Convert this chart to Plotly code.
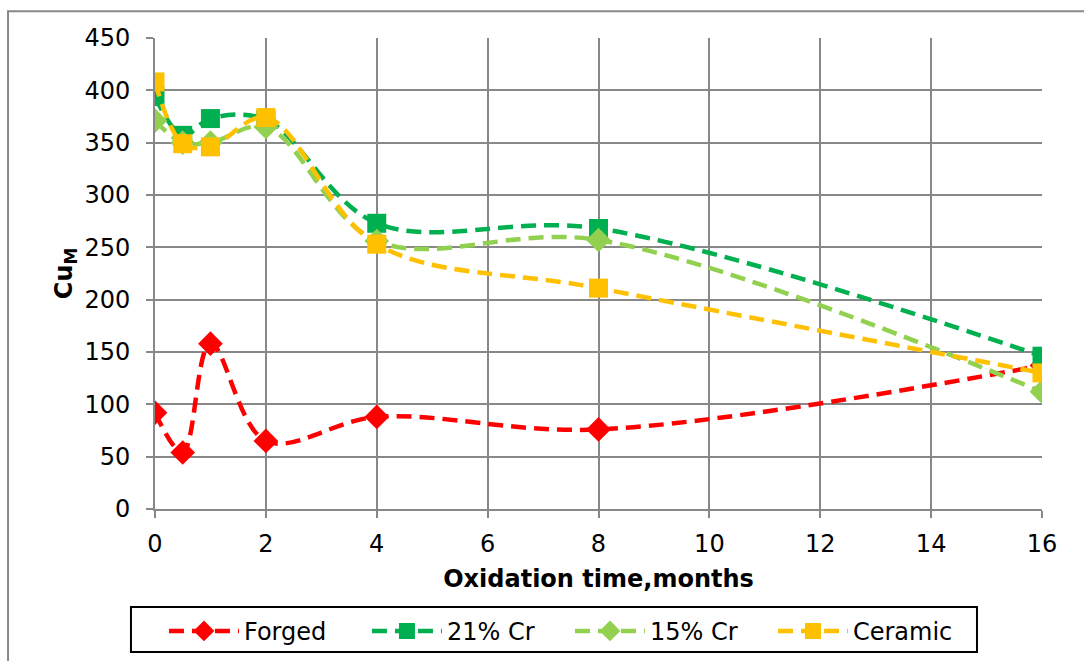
import plotly.graph_objects as go

# Oxidation time (months)
months = [0, 0.5, 1, 2, 4, 8, 16]

# Cu_M values per material
forged = [92, 54, 158, 65, 88, 76, 137]
cr21 = [394, 357, 373, 372, 273, 268, 146]
cr15 = [371, 350, 350, 365, 256, 257, 112]
ceramic = [408, 349, 346, 374, 253, 211, 130]

series = [
    ("Forged", forged, "#FF0000", "diamond"),
    ("21% Cr", cr21, "#00B050", "square"),
    ("15% Cr", cr15, "#92D050", "diamond"),
    ("Ceramic", ceramic, "#FFC000", "square"),
]

x_ticks = [0, 2, 4, 6, 8, 10, 12, 14, 16]
y_ticks = [0, 50, 100, 150, 200, 250, 300, 350, 400, 450]

FONT = "DejaVu Sans"
GRID = "#888888"
FS = 24

fig = go.Figure()
for name, vals, color, symbol in series:
    fig.add_trace(go.Scatter(
        x=months, y=vals, name=name, mode="lines+markers",
        line=dict(color=color, width=4.5, dash="15px,8px", shape="spline", smoothing=1.0),
        marker=dict(color=color, symbol=symbol, size=19, line=dict(width=0)),
    ))

fig.update_layout(
    width=1084, height=661,
    margin=dict(l=155, r=42, t=38, b=152, autoexpand=False),
    paper_bgcolor="white", plot_bgcolor="white",
    font=dict(family=FONT, size=FS, color="black"),
    showlegend=True,
    legend=dict(
        orientation="h", x=0.0101, xanchor="left", y=-0.212, yanchor="top",
        borderwidth=0, bgcolor="rgba(0,0,0,0)",
        font=dict(family=FONT, size=FS, color="black"),
        entrywidth=118, entrywidthmode="pixels", itemwidth=70,
    ),
    xaxis=dict(
        range=[0, 16], tickvals=x_ticks, showgrid=True, gridcolor=GRID, gridwidth=2,
        showline=True, linecolor=GRID, linewidth=2, ticks="outside", ticklen=7,
        tickcolor=GRID, tickwidth=2, zeroline=False, ticklabelstandoff=5,
        automargin=False,
        title=dict(text="<b>Oxidation time,months</b>",
                   font=dict(family=FONT, size=FS, color="black"), standoff=13),
        tickfont=dict(family=FONT, size=FS, color="black"),
    ),
    yaxis=dict(
        range=[0, 450], tickvals=y_ticks, showgrid=True, gridcolor=GRID, gridwidth=2,
        showline=True, linecolor=GRID, linewidth=2, ticks="outside", ticklen=7,
        tickcolor=GRID, tickwidth=2, zeroline=False, ticklabelstandoff=11,
        automargin=False,
        title=dict(text="<b>Cu<sub>M</sub></b>",
                   font=dict(family=FONT, size=FS, color="black"), standoff=5),
        tickfont=dict(family=FONT, size=FS, color="black"),
    ),
    shapes=[
        # outer chart frame
        dict(type="rect", xref="paper", yref="paper", x0=-0.1657, x1=1.2,
             y0=-0.5, y1=1.057, line=dict(color="#888888", width=2), layer="below"),
        # legend frame
        dict(type="rect", xref="paper", yref="paper", x0=-0.0271, x1=0.9267,
             y0=-0.3036, y1=-0.2081, line=dict(color="black", width=2), layer="below"),
    ],
)

fig.write_html("out.html")
